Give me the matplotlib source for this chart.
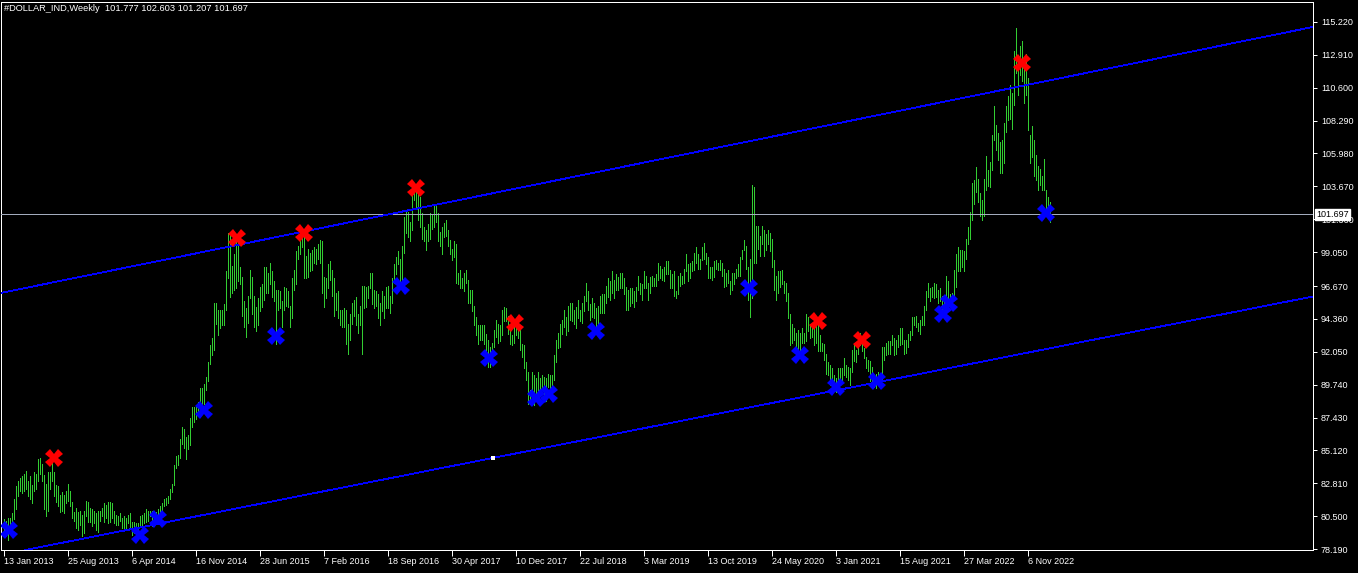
import numpy as np
import matplotlib
matplotlib.use("Agg")
import matplotlib.pyplot as plt
import matplotlib.transforms as mtransforms

plt.rcParams['font.family'] = ['Liberation Sans', 'DejaVu Sans']

# Weekly bars, first bar = week of 13 Jan 2013
weekly_high = [
    # 2013
    80.3, 80.2, 80.4, 80.4, 80.7, 81.7, 82.6, 83.0, 83.2, 83.3,
    83.5, 83.7, 83.0, 83.3, 82.7, 83.6, 83.5, 84.5, 84.6, 84.2,
    83.4, 82.8, 83.6, 83.6, 84.9, 83.6, 82.7, 82.6, 82.0, 82.2,
    82.0, 82.3, 82.8, 82.3, 81.5, 80.8, 81.1, 80.8, 80.9, 80.6,
    80.9, 81.6, 81.5, 81.1, 81.0, 80.9, 80.7, 80.9, 80.9, 81.1,
    81.4,
    # 2014
    81.3, 81.5, 81.5, 81.4, 80.9, 80.6, 80.5, 80.7, 80.4, 80.5,
    80.4, 80.6, 80.7, 80.1, 80.1, 80.0, 80.0, 80.5, 80.6, 80.7,
    81.0, 80.9, 80.9, 80.9, 80.7, 80.8, 81.0, 81.2, 81.4, 81.7,
    81.8, 81.9, 82.4, 82.8, 84.1, 84.7, 84.8, 85.9, 86.8, 86.6,
    86.1, 86.2, 87.4, 88.2, 88.2, 88.2, 88.5, 89.5, 89.5, 89.8,
    90.3, 91.3,
    # 2015
    92.5, 93.0, 95.5, 95.5, 95.0, 95.0, 95.0, 95.4, 97.7, 100.4,
    100.3, 98.1, 98.9, 99.8, 100.1, 98.0, 97.3, 95.6, 95.1, 96.0,
    97.8, 97.3, 96.0, 95.2, 95.8, 96.6, 96.8, 98.0, 98.0, 97.6,
    98.3, 97.7, 97.0, 96.4, 96.4, 96.3, 95.6, 96.6, 96.5, 96.3,
    95.3, 97.2, 97.8, 99.1, 99.5, 99.8, 100.2, 100.5, 98.8, 99.3,
    99.0, 99.2,
    # 2016
    99.4, 99.3, 99.6, 99.9, 99.8, 97.3, 97.2, 98.2, 98.4, 97.8,
    97.2, 96.2, 96.3, 95.0, 95.0, 95.1, 95.0, 94.0, 94.7, 95.5,
    95.7, 95.9, 94.7, 95.3, 96.7, 96.7, 96.6, 96.7, 97.6, 97.6,
    96.4, 96.3, 96.1, 95.5, 96.3, 96.0, 96.6, 96.7, 96.0, 97.2,
    98.2, 98.7, 99.1, 98.6, 99.5, 101.5, 102.0, 101.9, 101.2, 103.6,
    103.7, 103.6,
    # 2017
    103.8, 102.9, 101.8, 100.8, 100.6, 101.0, 101.8, 101.7, 102.3, 102.3,
    101.8, 100.5, 100.8, 101.1, 101.3, 100.6, 99.9, 99.3, 99.8, 99.6,
    97.6, 97.8, 97.2, 97.6, 97.8, 97.1, 96.4, 96.4, 95.3, 94.5,
    93.9, 93.9, 93.9, 93.9, 93.3, 92.9, 92.4, 92.7, 93.6, 94.3,
    94.0, 93.9, 95.0, 95.2, 95.1, 94.6, 93.9, 93.2, 94.0, 94.2,
    94.0, 93.6,
    # 2018
    92.6, 92.5, 91.3, 90.6, 89.4, 90.6, 90.4, 90.2, 90.6, 90.2,
    90.4, 90.3, 90.2, 90.5, 90.4, 90.4, 91.8, 92.9, 93.4, 94.0,
    94.3, 95.0, 94.5, 95.3, 95.5, 95.5, 95.0, 95.2, 95.7, 95.0,
    95.5, 96.0, 96.9, 96.3, 95.4, 95.8, 95.5, 95.1, 95.3, 96.0,
    96.1, 96.1, 96.7, 97.2, 97.0, 97.7, 97.1, 97.5, 97.3, 97.6,
    97.6, 97.2,
    # 2019
    96.6, 96.4, 96.5, 96.5, 96.3, 96.6, 97.4, 96.9, 96.8, 97.7,
    97.4, 96.9, 97.3, 97.4, 97.2, 97.5, 98.3, 98.1, 97.9, 98.0,
    98.4, 98.4, 97.8, 97.5, 97.7, 96.3, 97.4, 97.6, 97.4, 97.9,
    98.9, 98.2, 98.3, 98.4, 99.0, 99.4, 98.9, 98.6, 99.4, 99.7,
    99.0, 98.7, 98.0, 98.0, 98.4, 98.5, 98.3, 98.5, 98.3, 97.9,
    97.6, 97.8,
    # 2020
    97.0, 97.6, 97.6, 97.9, 98.2, 98.7, 99.2, 99.9, 99.5, 98.0,
    98.6, 103.8, 103.6, 100.9, 100.9, 100.2, 100.9, 100.6, 100.3, 100.6,
    100.4, 100.0, 98.5, 97.4, 97.7, 97.7, 97.8, 97.0, 96.9, 96.2,
    94.7, 94.0, 93.7, 93.4, 93.6, 93.4, 93.7, 93.4, 94.7, 94.5,
    94.0, 94.0, 93.8, 94.3, 94.3, 93.2, 92.7, 92.6, 91.9, 91.3,
    91.1, 90.9,
    # 2021
    90.4, 90.2, 90.9, 90.9, 90.9, 91.6, 91.1, 91.0, 90.9, 92.2,
    92.5, 92.2, 92.9, 93.4, 93.0, 92.3, 91.7, 91.5, 91.4, 91.0,
    90.4, 90.5, 90.6, 90.5, 92.4, 92.4, 92.7, 92.8, 92.8, 93.2,
    93.0, 92.9, 93.2, 93.7, 93.7, 92.9, 92.9, 93.3, 93.5, 94.5,
    94.5, 94.6, 94.1, 94.3, 94.6, 95.3, 96.3, 96.9, 96.5, 96.6,
    96.9, 96.8,
    # 2022 - Jan 2023
    96.4, 96.5, 96.0, 96.0, 97.4, 97.0, 96.1, 96.2, 97.8, 98.9,
    99.4, 99.2, 99.2, 99.1, 100.0, 100.8, 101.9, 103.9, 104.1, 105.0,
    104.2, 103.2, 102.7, 104.2, 105.8, 104.8, 105.4, 107.3, 109.3, 108.0,
    107.4, 106.8, 106.9, 108.1, 109.3, 110.0, 110.8, 110.2, 113.2, 114.8,
    112.5, 113.5, 113.9, 112.5, 113.0, 111.3, 107.3, 107.9, 106.9, 105.9,
    105.1, 104.9, 104.4, 105.6, 103.4, 102.9, 102.6,
]

weekly_low = [
    # 2013
    79.3, 79.1, 78.8, 79.4, 79.8, 80.3, 81.0, 81.9, 82.3, 82.1,
    82.3, 82.4, 81.9, 81.7, 81.4, 82.3, 82.4, 83.0, 83.5, 83.0,
    81.0, 80.5, 80.9, 82.4, 83.0, 81.9, 81.5, 81.2, 80.8, 80.9,
    80.7, 81.4, 81.6, 81.2, 80.4, 80.2, 79.7, 79.5, 79.9, 79.1,
    79.3, 80.5, 80.1, 80.1, 79.8, 80.0, 79.5, 79.4, 80.2, 80.5,
    80.1,
    # 2014
    80.4, 80.0, 80.1, 80.4, 80.0, 79.9, 79.9, 80.2, 79.7, 79.5,
    79.6, 80.0, 79.6, 79.2, 79.3, 79.3, 78.9, 79.8, 79.9, 80.0,
    80.1, 80.2, 80.5, 79.8, 80.0, 80.1, 80.3, 80.6, 80.9, 81.2,
    81.3, 81.4, 81.7, 82.2, 82.7, 83.9, 84.1, 84.6, 85.6, 85.3,
    84.5, 85.2, 85.5, 86.8, 87.1, 87.3, 87.6, 87.9, 88.1, 88.4,
    89.4, 90.0,
    # 2015
    91.2, 91.8, 92.2, 94.0, 93.2, 93.7, 93.9, 93.9, 95.0, 97.2,
    95.9, 96.2, 96.4, 96.5, 97.0, 96.8, 94.6, 93.8, 93.1, 94.1,
    95.8, 94.7, 93.8, 93.5, 93.9, 94.9, 95.2, 95.7, 96.2, 96.2,
    96.8, 95.9, 95.6, 92.6, 95.0, 95.1, 93.8, 95.0, 95.3, 95.2,
    93.8, 94.4, 96.4, 96.8, 98.6, 98.9, 99.4, 97.2, 97.2, 97.3,
    97.7, 97.8,
    # 2016
    98.3, 98.2, 98.6, 98.3, 96.2, 95.2, 95.8, 96.5, 97.1, 96.0,
    94.6, 95.0, 94.4, 93.9, 93.8, 93.8, 92.6, 91.9, 92.9, 94.0,
    94.6, 93.9, 93.4, 93.9, 91.9, 95.1, 95.2, 95.8, 96.5, 95.4,
    95.1, 95.3, 94.4, 93.9, 94.9, 94.4, 95.1, 95.1, 94.8, 95.5,
    96.9, 97.5, 98.2, 96.9, 96.6, 99.0, 100.4, 100.1, 99.8, 100.6,
    102.7, 102.1,
    # 2017
    101.3, 100.8, 100.0, 99.8, 99.2, 99.8, 100.0, 100.7, 100.8, 101.2,
    99.8, 99.5, 98.9, 100.1, 100.2, 99.5, 98.9, 98.5, 98.7, 96.9,
    96.8, 96.5, 96.5, 96.3, 96.9, 95.5, 95.5, 94.9, 93.9, 93.2,
    92.6, 92.9, 92.9, 92.6, 91.6, 91.0, 91.0, 91.4, 92.4, 93.1,
    92.7, 92.8, 93.2, 94.2, 94.2, 93.3, 92.6, 92.5, 92.7, 93.2,
    93.0, 92.2,
    # 2018
    91.7, 90.9, 90.1, 88.4, 88.4, 88.9, 88.3, 88.8, 89.3, 89.1,
    89.4, 88.9, 88.6, 89.6, 89.0, 89.2, 90.1, 91.3, 92.3, 92.4,
    93.3, 93.8, 93.2, 93.5, 94.3, 94.2, 94.0, 93.7, 94.4, 94.2,
    94.1, 94.9, 95.6, 95.0, 94.3, 94.5, 94.4, 93.8, 93.8, 94.8,
    94.8, 94.8, 95.5, 95.9, 95.7, 96.2, 95.8, 96.4, 96.4, 96.5,
    96.5, 96.1,
    # 2019
    95.0, 95.0, 95.3, 95.5, 95.2, 95.6, 96.4, 96.1, 95.7, 96.5,
    96.5, 95.7, 96.2, 96.7, 96.7, 96.7, 97.1, 97.2, 97.1, 97.0,
    97.5, 97.5, 96.5, 96.5, 96.0, 95.8, 96.1, 96.7, 96.8, 96.9,
    97.7, 97.0, 97.2, 97.7, 97.8, 98.3, 97.9, 97.9, 98.5, 98.6,
    98.2, 97.2, 97.2, 97.1, 97.3, 97.9, 97.8, 97.8, 97.4, 96.6,
    96.7, 96.9,
    # 2020
    96.1, 96.4, 96.8, 97.2, 97.4, 97.4, 98.6, 99.2, 97.9, 95.7,
    94.5, 95.8, 98.3, 98.3, 99.3, 98.8, 99.6, 98.8, 99.2, 99.6,
    99.1, 98.0, 96.4, 95.7, 96.2, 96.6, 96.8, 96.2, 95.6, 94.4,
    92.5, 92.7, 92.9, 92.1, 92.1, 91.7, 92.7, 92.7, 92.8, 93.5,
    93.0, 93.1, 92.5, 92.7, 92.1, 92.1, 92.1, 91.5, 90.5, 90.4,
    89.7, 89.8,
    # 2021
    89.5, 89.2, 89.8, 89.9, 89.9, 90.4, 90.3, 90.1, 89.7, 90.6,
    91.4, 91.3, 91.9, 92.5, 92.1, 91.6, 90.9, 90.7, 90.0, 89.7,
    89.6, 89.5, 89.7, 89.8, 90.1, 91.5, 91.8, 91.9, 91.9, 92.5,
    91.8, 91.9, 92.4, 92.5, 92.6, 91.9, 92.0, 92.4, 92.9, 93.2,
    93.9, 93.8, 93.5, 93.3, 93.9, 93.9, 95.0, 95.9, 95.6, 95.9,
    95.8, 95.9,
    # 2022 - Jan 2023
    95.5, 95.6, 94.6, 95.1, 95.7, 95.1, 95.2, 95.6, 95.8, 96.6,
    97.7, 97.7, 98.0, 97.7, 98.6, 99.6, 100.0, 101.3, 102.4, 103.3,
    102.6, 101.6, 101.3, 101.6, 103.4, 103.7, 103.6, 104.8, 106.9, 106.2,
    105.5, 104.6, 104.6, 105.3, 107.5, 108.3, 108.4, 107.7, 109.4, 111.6,
    110.1, 111.5, 111.1, 109.5, 110.1, 107.6, 105.3, 105.7, 104.4, 104.1,
    103.4, 103.8, 103.4, 103.4, 101.8, 101.5, 101.2,
]

# date labels on the time axis, every 32 bars
date_labels = ["13 Jan 2013", "25 Aug 2013", "6 Apr 2014", "16 Nov 2014",
               "28 Jun 2015", "7 Feb 2016", "18 Sep 2016", "30 Apr 2017",
               "10 Dec 2017", "22 Jul 2018", "3 Mar 2019", "13 Oct 2019",
               "24 May 2020", "3 Jan 2021", "15 Aug 2021", "27 Mar 2022",
               "6 Nov 2022"]

price_ticks = [78.19, 80.50, 82.81, 85.12, 87.43, 89.74, 92.05, 94.36, 96.67,
               99.05, 101.36, 103.67, 105.98, 108.29, 110.60, 112.91, 115.22]

last_price = 101.697
header = "#DOLLAR_IND,Weekly  101.777 102.603 101.207 101.697"

# swing markers (bar index, price)
red_idx = [25, 116.5, 150, 206, 255.5, 407, 429, 509]
red_val = [84.59, 100.04, 100.39, 103.55, 94.07, 94.21, 92.88, 112.33]
blue_idx = [2.5, 68, 77, 100, 136, 198.5, 242.5, 266, 272.5, 296,
            372.5, 398, 416, 436.5, 469.5, 472.5, 521]
blue_val = [79.54, 79.19, 80.31, 87.96, 93.16, 96.67, 91.62, 88.81, 89.09, 93.52,
            96.53, 91.83, 89.58, 90.00, 94.70, 95.47, 101.79]

# channel lines (bar index, price)
upper_line = [(-1.5, 96.18), (654.5, 114.86)]
lower_line = [(244.5, 84.59), (654.5, 95.93)]

W, H = 1358, 573
fig = plt.figure(figsize=(W / 100, H / 100), dpi=100, facecolor='black')
ax = fig.add_axes([0.5 / W, 23 / H, 1312 / W, 548 / H])
ax.set_facecolor('black')

px = 0.72  # one pixel in points
n = len(weekly_high)
idx = np.arange(n)
ax.vlines(idx, weekly_low, weekly_high, colors='#32cd32', linewidth=px,
          antialiased=False, zorder=2)

ax.axhline(last_price, color='#a3abbd', linewidth=px, antialiased=False, zorder=3)
ax.axline(upper_line[0], upper_line[1], color='#0000ff', linewidth=0.6,
          antialiased=False, zorder=3)
ax.axline(lower_line[0], lower_line[1], color='#0000ff', linewidth=0.6,
          antialiased=False, zorder=3)
ax.plot([lower_line[0][0]], [lower_line[0][1]], 's', color='white', markersize=2.2,
        markeredgewidth=0, zorder=4)

ax.plot(red_idx, red_val, 'X', color='#ff0000', markersize=12.5, markeredgewidth=0,
        linestyle='none', zorder=5)
ax.plot(blue_idx, blue_val, 'X', color='#0000ff', markersize=12.5, markeredgewidth=0,
        linestyle='none', zorder=5)

ax.set_xlim(-1.5, 654.5)
ax.set_ylim(78.13, 116.62)

for s in ax.spines.values():
    s.set_color('white')
    s.set_linewidth(px)

ax.yaxis.tick_right()
ax.set_yticks(price_ticks)
ax.set_yticklabels([f"{v:.3f}" for v in price_ticks])
ax.tick_params(axis='y', colors='white', labelsize=6.5, length=3, width=px, pad=3)

ax.set_xticks(np.arange(len(date_labels)) * 32)
ax.set_xticklabels(date_labels)
ax.tick_params(axis='x', colors='white', labelsize=6.5, length=4, width=px, pad=1)
offset = mtransforms.ScaledTranslation(1 / 100, 0, fig.dpi_scale_trans)
for lab in ax.get_xticklabels():
    lab.set_horizontalalignment('left')
    lab.set_transform(lab.get_transform() + offset)

# current price box on the price scale (it covers the 101.360 label, as in MT4)
trans = mtransforms.blended_transform_factory(ax.transAxes, ax.transData)
ax.text(1.003, last_price, f"{last_price:.3f}", transform=trans, ha='left', va='center',
        fontsize=6.5, color='black', zorder=10, clip_on=False,
        bbox=dict(boxstyle='square,pad=0.15', facecolor='white', edgecolor='white'))

fig.text(4 / W, 1 - 4 / H, header, color='white', fontsize=6.7, ha='left', va='top')

fig.savefig("out.png", dpi=100, facecolor='black')
